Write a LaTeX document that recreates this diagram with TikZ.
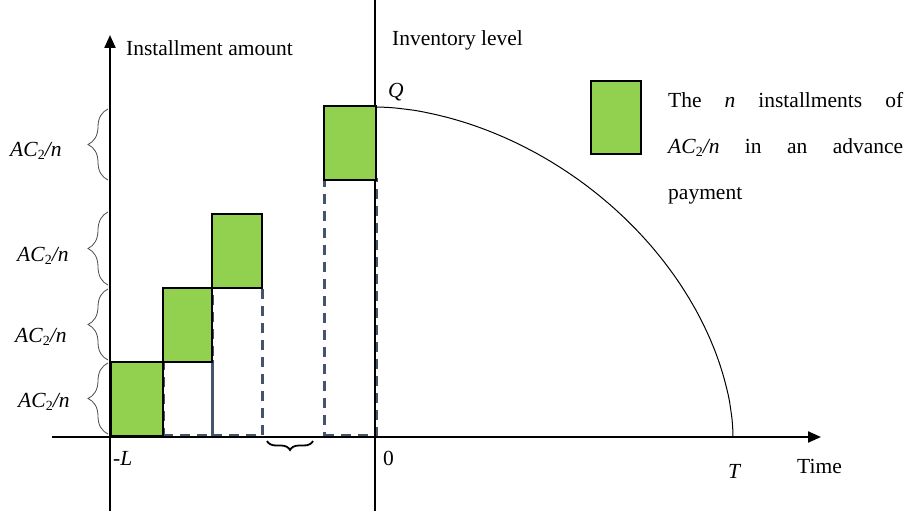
\documentclass[tikz,border=0pt]{standalone}
\usepackage{fontspec}
\setmainfont{Liberation Serif}
\usetikzlibrary{decorations.pathreplacing,arrows.meta}
\newcommand\acn{\textit{AC}\raisebox{-0.35ex}{\fontsize{14}{14}\selectfont 2}\textit{/n}}
\definecolor{boxgreen}{HTML}{92D050}
\definecolor{dashgray}{HTML}{44546A}
\begin{document}
\begin{tikzpicture}[x=1pt,y=-1pt,
  font=\fontsize{21.5}{26}\selectfont,
  lbl/.style={anchor=base west, inner sep=0pt},
  axis/.style={line width=2.2pt},
  arrowaxis/.style={axis, -{Triangle[length=13pt,width=11pt]}},
  greenbox/.style={draw=black, line width=2.4pt, fill=boxgreen, anchor=south west, inner sep=0pt, minimum width=#1},
  dashbox/.style={draw=dashgray, line width=2.6pt, dash pattern=on 10pt off 7pt, anchor=south west, inner sep=0pt, minimum width=#1},
  leftbrace/.style={decorate, decoration={brace, amplitude=20pt, aspect=0.5}, line width=0.8pt, draw=black!70},
  lowbrace/.style={decorate, decoration={brace, amplitude=9pt, aspect=0.5}, line width=1.8pt},
  curve/.style={line width=1pt}
]
\useasboundingbox (0,0) rectangle (904,511);

% dashed outlines
\node[dashbox=49pt, minimum height=74pt] (d2) at (162,437) {};
\node[dashbox=50pt, minimum height=148pt] (d3) at (211,437) {};
\node[dashbox=52pt, minimum height=256pt] (d4) at (323,437) {};

% axes
\coordinate (ylb) at (110,511);
\coordinate (ylt) at (110,35);
\coordinate (yrb) at (375,511);
\coordinate (yrt) at (375,0);
\coordinate (xl) at (52,437);
\coordinate (xr) at (821,437);
\draw[arrowaxis] (xl) -- (xr);
\draw[arrowaxis] (ylb) -- (ylt);
\draw[axis] (yrb) -- (yrt);

% green installment boxes
\node[greenbox=52pt, minimum height=74pt] (b1) at (110,437) {};
\node[greenbox=49pt, minimum height=74pt] (b2) at (162,363) {};
\node[greenbox=50pt, minimum height=74pt] (b3) at (211,289) {};
\node[greenbox=52pt, minimum height=74pt] (b4) at (323,181) {};

% inventory curve
\draw[curve] plot[domain=0:90, samples=120, variable=\t]
  ({375+358*pow(max(sin(\t),0.00001),1.111)}, {437-330*pow(max(cos(\t),0.00001),1.111)});

% braces
\draw[leftbrace] (108,180) -- (108,109);
\draw[leftbrace] (108,285) -- (108,212);
\draw[leftbrace] (108,360) -- (108,289);
\draw[leftbrace] (108,434) -- (108,363);
\draw[lowbrace] (313,441) -- (267,441);

% labels
\node[lbl] (a1) at (10,156) {\acn};
\node[lbl] (a2) at (17,261) {\acn};
\node[lbl] (a3) at (15,342) {\acn};
\node[lbl] (a4) at (18,407) {\acn};

\node[lbl] (lyl) at (126,56) {Installment amount};
\node[lbl] (lyr) at (392,46) {Inventory level};
\node[lbl] (lq) at (388,97) {\textit{Q}};
\node[lbl] (lL) at (113,465) {-\textit{L}};
\node[lbl] (l0) at (383,465) {0};
\node[lbl] (lT) at (728,478) {\textit{T}};
\node[lbl] (ltime) at (797,473) {Time};

% legend
\node[greenbox=50pt, minimum height=73pt] (leg) at (590,155) {};
\node[lbl] (t1) at (668,107) {\hbox to 235pt{The\hfill\textit{n}\hfill installments\hfill of}};
\node[lbl] (t2) at (668,153) {\hbox to 235pt{\acn\hfill in\hfill an\hfill advance}};
\node[lbl] (t3) at (668,199) {payment};
\end{tikzpicture}
\end{document}
